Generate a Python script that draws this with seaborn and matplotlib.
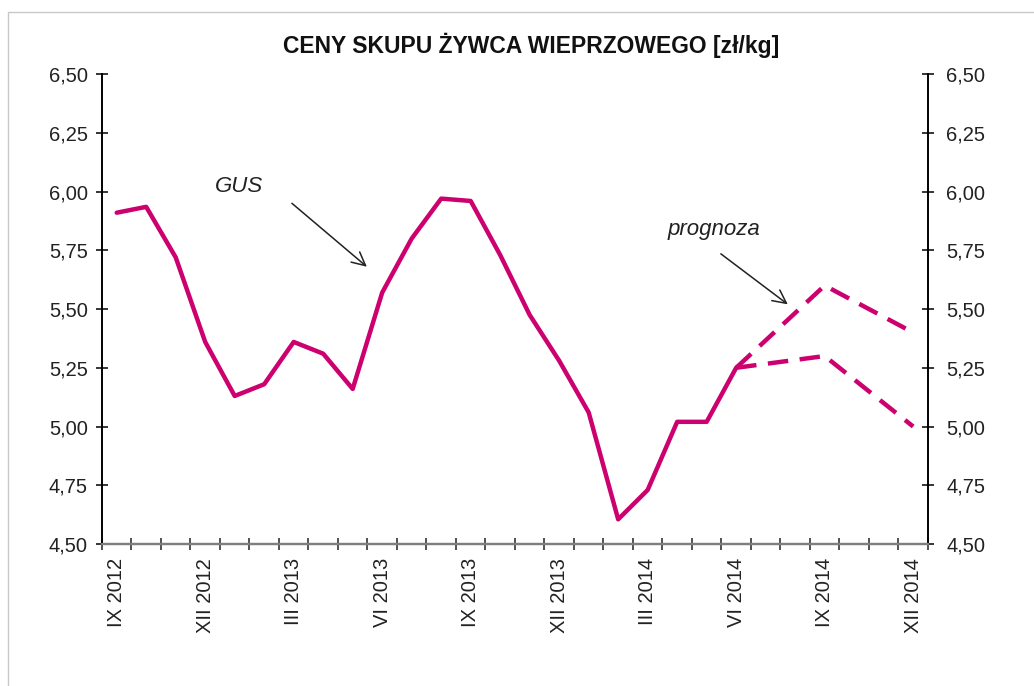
import numpy as np
import pandas as pd
import seaborn as sns
import matplotlib.pyplot as plt
from matplotlib.patches import Rectangle

# Monthly categories IX 2012 .. XII 2014 (28 months)
months = ['IX 2012', 'X 2012', 'XI 2012', 'XII 2012',
          'I 2013', 'II 2013', 'III 2013', 'IV 2013', 'V 2013', 'VI 2013',
          'VII 2013', 'VIII 2013', 'IX 2013', 'X 2013', 'XI 2013', 'XII 2013',
          'I 2014', 'II 2014', 'III 2014', 'IV 2014', 'V 2014', 'VI 2014',
          'VII 2014', 'VIII 2014', 'IX 2014', 'X 2014', 'XI 2014', 'XII 2014']
label_months = ['IX 2012', 'XII 2012', 'III 2013', 'VI 2013', 'IX 2013',
                'XII 2013', 'III 2014', 'VI 2014', 'IX 2014', 'XII 2014']

# GUS prices [zl/kg], IX 2012 .. VI 2014
gus = [5.91, 5.935, 5.72, 5.36, 5.13, 5.18, 5.36, 5.31, 5.16, 5.57, 5.80,
       5.97, 5.96, 5.73, 5.475, 5.28, 5.06, 4.605, 4.73, 5.02, 5.02, 5.25]
# forecast (upper and lower variant)
fc_months = ['VI 2014', 'IX 2014', 'XII 2014']
fc_high = [5.25, 5.60, 5.40]
fc_low = [5.25, 5.30, 5.00]

y_ticks = [4.50, 4.75, 5.00, 5.25, 5.50, 5.75, 6.00, 6.25, 6.50]

COLOR = '#CC006E'

sns.set_style('white')
plt.rcParams['font.family'] = ['Liberation Sans', 'DejaVu Sans']

pos = {m: i for i, m in enumerate(months)}
df_gus = pd.DataFrame({'x': [pos[m] for m in months[:len(gus)]], 'cena': gus})
df_hi = pd.DataFrame({'x': [pos[m] for m in fc_months], 'cena': fc_high})
df_lo = pd.DataFrame({'x': [pos[m] for m in fc_months], 'cena': fc_low})

fig = plt.figure(figsize=(10.34, 6.86), dpi=100)
ax = fig.add_axes([0.0986, 0.207, 0.7988, 0.685])

sns.lineplot(data=df_gus, x='x', y='cena', ax=ax, color=COLOR, lw=3.2)
for d in (df_hi, df_lo):
    sns.lineplot(data=d, x='x', y='cena', ax=ax, color=COLOR, lw=3.2)
    ax.lines[-1].set_dashes((4.6, 2.6))

ax.set_xlim(-0.5, len(months) - 0.5)
ax.set_ylim(4.5, 6.5)
ax.set_xlabel('')
ax.set_ylabel('')

# x: labels at category centres, cross ticks at category boundaries
ax.set_xticks([pos[m] for m in label_months])
ax.set_xticklabels(label_months, rotation=90, fontsize=14.5, va='top',
                   color='#222222')
ax.set_xticks(np.arange(-0.5, len(months)), minor=True)
ax.tick_params(axis='x', which='major', bottom=True, length=0, pad=10)
ax.tick_params(axis='x', which='minor', bottom=True, direction='inout',
               length=8.6, width=1.1, color='#222222')

fmt = [f'{v:.2f}'.replace('.', ',') for v in y_ticks]
ax.set_yticks(y_ticks)
ax.set_yticklabels(fmt, fontsize=14.5, color='#222222')
ax.tick_params(axis='y', left=True, direction='inout', length=8.6,
               width=1.1, color='black', pad=6)

ax2 = ax.twinx()
ax2.set_ylim(4.5, 6.5)
ax2.set_yticks(y_ticks)
ax2.set_yticklabels(fmt, fontsize=14.5, color='#222222')
ax2.tick_params(axis='y', right=True, direction='inout', length=8.6,
                width=1.1, color='black', pad=9)

for a in (ax, ax2):
    a.spines['top'].set_visible(False)
    a.spines['left'].set_linewidth(1.2)
    a.spines['right'].set_linewidth(1.2)
    a.spines['left'].set_color('black')
    a.spines['right'].set_color('black')
    a.spines['bottom'].set_color('#7f7f7f')
    a.spines['bottom'].set_linewidth(1.6)
    a.grid(False)

# annotations: labels and open arrows
arrow = dict(arrowstyle='->', color='#222222', lw=1.1,
             shrinkA=0, shrinkB=0, mutation_scale=24)
ax.text(4.14, 6.02, 'GUS', fontsize=16, style='italic',
        ha='center', va='center', color='#222222')
ax.annotate('', xy=(8.48, 5.68), xytext=(5.94, 5.95), arrowprops=arrow)
ax.text(20.25, 5.84, 'prognoza', fontsize=16, style='italic',
        ha='center', va='center', color='#222222')
ax.annotate('', xy=(22.75, 5.52), xytext=(20.48, 5.735), arrowprops=arrow)

fig.text(531 / 1034, 1 - 45 / 686, 'CENY SKUPU ŻYWCA WIEPRZOWEGO [zł/kg]',
         ha='center', va='center', fontsize=16.5, fontweight='bold',
         color='#111111')

# chart area border
fig.patches.append(Rectangle((8 / 1034, -0.1), 1.2, 1 - 12 / 686 + 0.1,
                             transform=fig.transFigure, fill=False,
                             edgecolor='#c8c8c8', lw=1))

fig.savefig('out.png', dpi=100)
